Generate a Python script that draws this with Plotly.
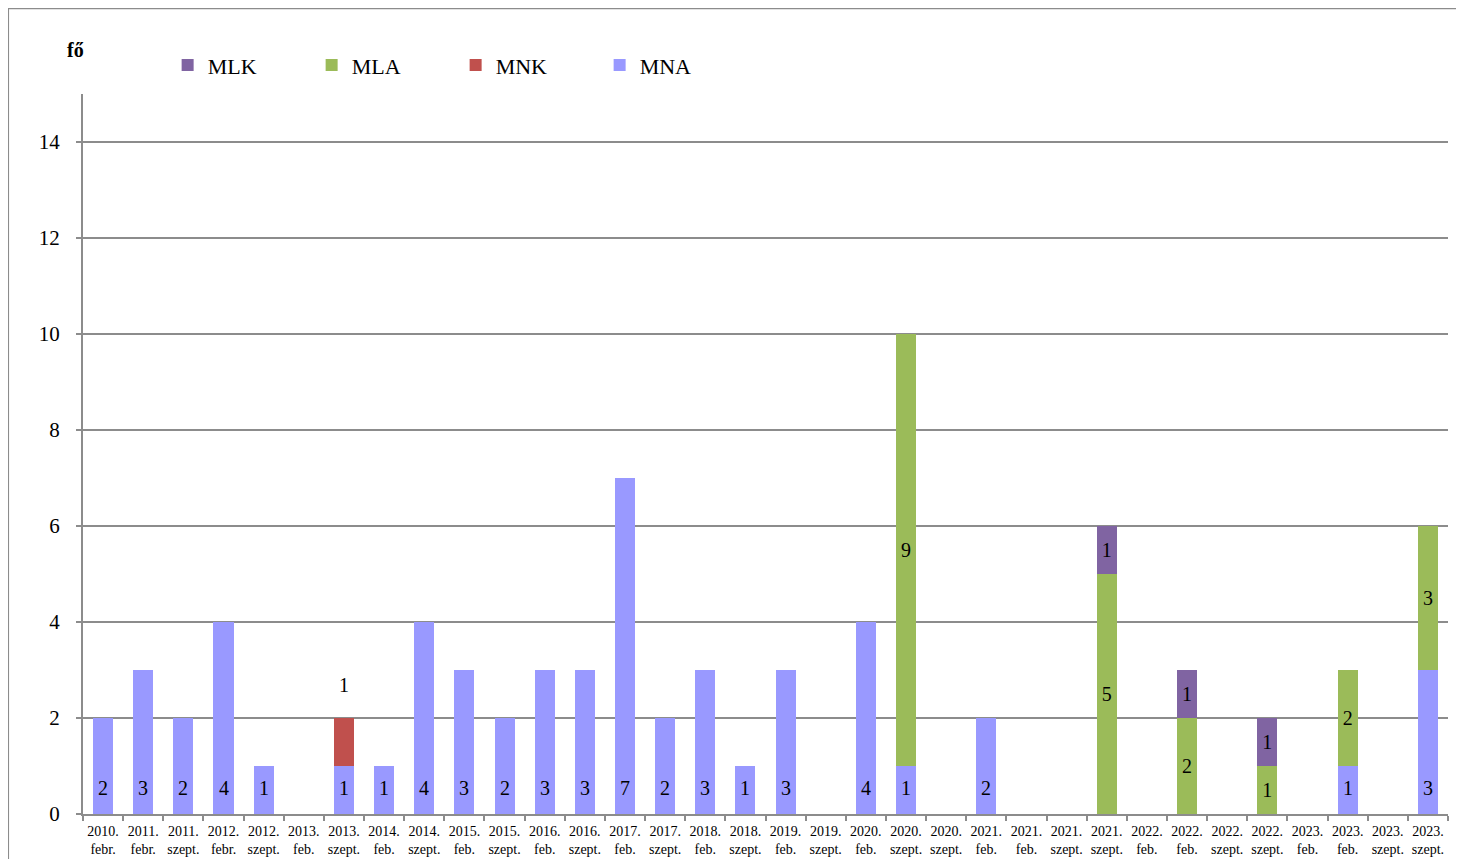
import plotly.graph_objects as go

categories = [
    "2010.<br>febr.", "2011.<br>febr.", "2011.<br>szept.", "2012.<br>febr.", "2012.<br>szept.",
    "2013.<br>feb.", "2013.<br>szept.", "2014.<br>feb.", "2014.<br>szept.", "2015.<br>feb.",
    "2015.<br>szept.", "2016.<br>feb.", "2016.<br>szept.", "2017.<br>feb.", "2017.<br>szept.",
    "2018.<br>feb.", "2018.<br>szept.", "2019.<br>feb.", "2019.<br>szept.", "2020.<br>feb.",
    "2020.<br>szept.", "2020.<br>szept.", "2021.<br>feb.", "2021.<br>feb.", "2021.<br>szept.",
    "2021.<br>szept.", "2022.<br>feb.", "2022.<br>feb.", "2022.<br>szept.", "2022.<br>szept.",
    "2023.<br>feb.", "2023.<br>feb.", "2023.<br>szept.", "2023.<br>szept.",
]

MNA = [2, 3, 2, 4, 1, 0, 1, 1, 4, 3, 2, 3, 3, 7, 2, 3, 1, 3, 0, 4,
       1, 0, 2, 0, 0, 0, 0, 0, 0, 0, 0, 1, 0, 3]
MNK = [0, 0, 0, 0, 0, 0, 1, 0, 0, 0, 0, 0, 0, 0, 0, 0, 0, 0, 0, 0,
       0, 0, 0, 0, 0, 0, 0, 0, 0, 0, 0, 0, 0, 0]
MLA = [0, 0, 0, 0, 0, 0, 0, 0, 0, 0, 0, 0, 0, 0, 0, 0, 0, 0, 0, 0,
       9, 0, 0, 0, 0, 5, 0, 2, 0, 1, 0, 2, 0, 3]
MLK = [0, 0, 0, 0, 0, 0, 0, 0, 0, 0, 0, 0, 0, 0, 0, 0, 0, 0, 0, 0,
       0, 0, 0, 0, 0, 1, 0, 1, 0, 1, 0, 0, 0, 0]

series = [("MNA", MNA, "#9999FF"), ("MNK", MNK, "#C0504D"),
          ("MLA", MLA, "#9BBB59"), ("MLK", MLK, "#8064A2")]

FONT = "'Liberation Serif', 'Times New Roman', 'DejaVu Serif', serif"
x = list(range(len(categories)))

fig = go.Figure()
for name, vals, color in series:
    y = [v if v else None for v in vals]
    txt = [str(v) if v else "" for v in vals]
    inside = name in ("MLA", "MLK")
    fig.add_trace(go.Bar(
        x=x, y=y, name=name, marker=dict(color=color, line=dict(width=0)),
        text=txt if inside else None,
        textposition="inside", insidetextanchor="middle",
        textfont=dict(family=FONT, size=20, color="black"),
        width=0.5, cliponaxis=False,
    ))

# MNA labels at the bar base (inside base)
for i, v in enumerate(MNA):
    if v:
        fig.add_annotation(x=i, y=0, text=str(v), showarrow=False, yanchor="bottom",
                           yshift=13, font=dict(family=FONT, size=20, color="black"))

# MNK labels above bar
for i, v in enumerate(MNK):
    if v:
        fig.add_annotation(x=i, y=MNA[i] + v, text=str(v), showarrow=False,
                           yshift=33, font=dict(family=FONT, size=20, color="black"))

fig.add_annotation(xref="paper", yref="paper", x=0.002, y=1.061, text="<b>fő</b>",
                   showarrow=False, xanchor="right", yanchor="middle",
                   font=dict(family=FONT, size=20, color="black"))

fig.add_shape(type="rect", xref="paper", yref="paper", x0=-0.0549, x1=1.011,
              y0=-0.2, y1=1.119, line=dict(color="#8c8c8c", width=2), layer="below")

fig.update_layout(
    barmode="stack",
    width=1456, height=851,
    margin=dict(l=75, r=16, t=86, b=45, autoexpand=False),
    paper_bgcolor="white", plot_bgcolor="white",
    font=dict(family=FONT, color="black"),
    showlegend=True,
    legend=dict(orientation="h", x=0.062, y=1.040, xanchor="left", yanchor="middle",
                traceorder="reversed", entrywidth=99, entrywidthmode="pixels",
                font=dict(family=FONT, size=22, color="black"), itemwidth=30,
                bgcolor="rgba(0,0,0,0)"),
    xaxis=dict(
        range=[-0.5, len(categories) - 0.5],
        tickvals=x, ticktext=categories, ticks="",
        tickfont=dict(family=FONT, size=14, color="black"), ticklabelstandoff=3,
        showline=True, linecolor="#8c8c8c", linewidth=2,
        showgrid=False, zeroline=False,
        minor=dict(tick0=-0.5, dtick=1, ticks="outside", ticklen=5, tickcolor="#8c8c8c", tickwidth=2, showgrid=False),
        tickangle=0,
    ),
    yaxis=dict(
        range=[0, 15], tickvals=[0, 2, 4, 6, 8, 10, 12, 14],
        ticks="outside", ticklen=5, tickcolor="#8c8c8c", tickwidth=2,
        tickfont=dict(family=FONT, size=21, color="black"), ticklabelstandoff=12,
        showline=True, linecolor="#8c8c8c", linewidth=2,
        showgrid=True, gridcolor="#8c8c8c", gridwidth=2, zeroline=False,
    ),
)

fig.write_html("out.html")
